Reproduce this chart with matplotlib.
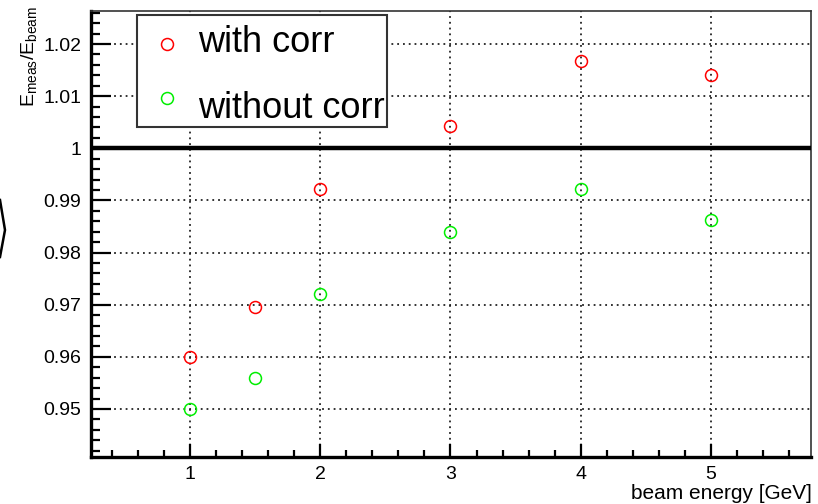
import matplotlib
matplotlib.use("Agg")
import matplotlib.pyplot as plt
from matplotlib.patches import Rectangle
from matplotlib.lines import Line2D
from matplotlib.ticker import MultipleLocator

plt.rcParams['font.family'] = ['Liberation Sans', 'DejaVu Sans']
plt.rcParams['mathtext.fontset'] = 'custom'
plt.rcParams['mathtext.rm'] = 'Liberation Sans'
plt.rcParams['mathtext.it'] = 'Liberation Sans'

# data
beam_energy = [1, 1.5, 2, 3, 4, 5]
with_corr = [0.9600, 0.9695, 0.9921, 1.0043, 1.0167, 1.0140]
without_corr = [0.9500, 0.9560, 0.9721, 0.9840, 0.9921, 0.9862]
series_labels = ["with corr", "without corr"]
x_label = "beam energy [GeV]"
y_label = r"$\mathrm{E_{meas}/E_{beam}}$"

fig = plt.figure(figsize=(8.18, 5.04), dpi=100)
W, H = 818, 504
ax = fig.add_axes([91 / W, 1 - 457 / H, 720 / W, 446 / H])

ax.set_xlim(0.24, 5.768)
ax.set_ylim(0.94079, 1.02633)

ax.xaxis.set_major_locator(MultipleLocator(1))
ax.xaxis.set_minor_locator(MultipleLocator(0.2))
ax.yaxis.set_major_locator(MultipleLocator(0.01))
ax.yaxis.set_minor_locator(MultipleLocator(0.002))
ax.yaxis.set_major_formatter(matplotlib.ticker.FuncFormatter(
    lambda v, p: "1" if abs(v - 1) < 1e-9 else "%.2f" % v))

ax.grid(True, which='major', color='#222222', linestyle=(0, (1, 2.2)), linewidth=1.3, zorder=1)
ax.set_axisbelow(True)

ax.tick_params(axis='both', which='both', direction='in', top=False, right=False,
               labelsize=14, colors='black', width=1.6)
ax.tick_params(axis='y', which='major', length=14.5, pad=7)
ax.tick_params(axis='y', which='minor', length=6.5)
ax.tick_params(axis='x', which='major', length=9.5, pad=6.5)
ax.tick_params(axis='x', which='minor', length=5)

for s in ['left', 'bottom']:
    ax.spines[s].set_linewidth(2.4)
for s in ['top', 'right']:
    ax.spines[s].set_linewidth(1.2)
    ax.spines[s].set_color('#333333')

ax.axhline(1.0, color='black', linewidth=3.2, zorder=3)

ax.plot(beam_energy, with_corr, linestyle='none', marker='o', markersize=8.6,
        markerfacecolor='none', markeredgecolor='#ff0000', markeredgewidth=1.1, zorder=5)
ax.plot(beam_energy, without_corr, linestyle='none', marker='o', markersize=8.6,
        markerfacecolor='none', markeredgecolor='#00ee00', markeredgewidth=1.1, zorder=5)

# legend box (ROOT style)
ax.add_patch(Rectangle((0.0639, 0.740), 0.347, 0.251, transform=ax.transAxes,
                       facecolor='white', edgecolor='#333333', linewidth=1.5, zorder=6))
ax.add_line(Line2D([0.1056], [0.926], transform=ax.transAxes, linestyle='none', marker='o',
                   markersize=8.6, markerfacecolor='none', markeredgecolor='#ff0000',
                   markeredgewidth=1.1, zorder=7))
ax.add_line(Line2D([0.1056], [0.805], transform=ax.transAxes, linestyle='none', marker='o',
                   markersize=8.6, markerfacecolor='none', markeredgecolor='#00ee00',
                   markeredgewidth=1.1, zorder=7))
ax.text(0.1486, 0.908, series_labels[0], transform=ax.transAxes, fontsize=26,
        va='baseline', ha='left', zorder=8)
ax.text(0.1486, 0.760, series_labels[1], transform=ax.transAxes, fontsize=26,
        va='baseline', ha='left', zorder=8)

fig.text(812 / W, 1 - 499 / H, x_label, ha='right', va='baseline', fontsize=15)
fig.text(29 / W, 1 - 6 / H, y_label, ha='center', va='top', rotation=90, fontsize=14)

# clipped shape at left edge
fig.add_artist(Line2D([0, 5 / W, 0], [1 - 200 / H, 1 - 230 / H, 1 - 257 / H],
                      transform=fig.transFigure, color='black', linewidth=1.8))

fig.savefig("out.png", dpi=100)
